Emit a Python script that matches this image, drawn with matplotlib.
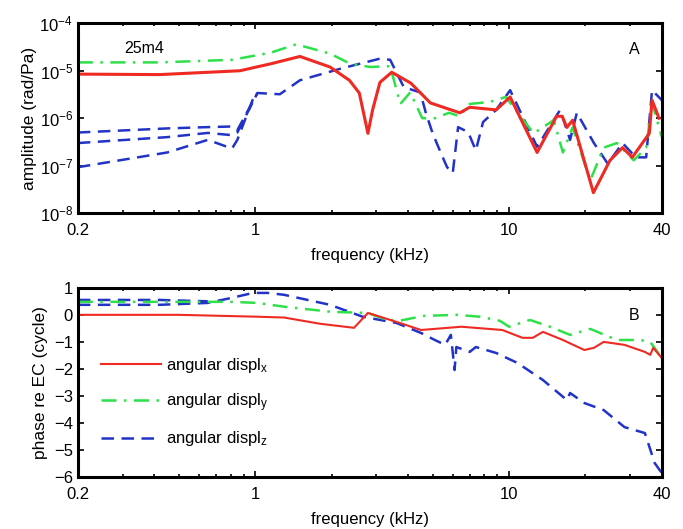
import numpy as np
import matplotlib
matplotlib.use("Agg")
import matplotlib.pyplot as plt
from matplotlib.ticker import FixedLocator, NullFormatter, NullLocator

plt.rcParams['font.family'] = ['Liberation Sans', 'DejaVu Sans']
plt.rcParams['mathtext.fontset'] = 'custom'
plt.rcParams['mathtext.rm'] = 'Liberation Sans'
plt.rcParams['mathtext.it'] = 'Liberation Sans'

# ---- panel A: amplitude (rad/Pa) vs frequency (kHz)
fx_amp = [0.2, 0.42, 0.87, 1.15, 1.5, 1.97, 2.35, 2.57, 2.78, 2.9, 3.1, 3.45, 4.1, 4.9,
          6.4, 7.0, 8.9, 10.1, 12.9, 15.4, 16.2, 16.9, 17.8, 21.5, 25.0, 28.0, 30.6,
          35.7, 36.6, 39.0]
ax_amp = [8.5e-6, 8.3e-6, 1.0e-5, 1.4e-5, 2.0e-5, 1.2e-5, 6.3e-6, 3.4e-6, 4.8e-7, 1.5e-6,
          5.7e-6, 9.3e-6, 5.5e-6, 2.1e-6, 1.3e-6, 1.7e-6, 1.5e-6, 2.8e-6, 1.9e-7, 1.1e-6,
          1.1e-6, 6.4e-7, 9.1e-7, 2.7e-8, 1.3e-7, 2.4e-7, 1.5e-7, 4.8e-7, 2.4e-6, 1.0e-6]

fy_amp = [0.2, 0.42, 0.81, 1.15, 1.45, 1.97, 2.37, 2.84, 3.4, 3.73, 4.08, 4.55, 5.1, 5.8,
          6.4, 7.0, 8.4, 9.7, 12.5, 15.0, 16.3, 17.8, 20.9, 23.6, 26.6, 31.0, 34.7, 36.6, 40.0]
ay_amp = [1.5e-5, 1.5e-5, 1.7e-5, 2.4e-5, 3.6e-5, 2.3e-5, 1.4e-5, 1.2e-5, 1.25e-5, 2.0e-6,
          3.5e-6, 1.0e-6, 1.0e-6, 1.3e-6, 1.1e-6, 2.0e-6, 2.2e-6, 2.8e-6, 4.8e-7, 9.1e-7,
          1.9e-7, 6.4e-7, 4.9e-8, 2.4e-7, 3.0e-7, 1.3e-7, 2.4e-7, 2.1e-6, 4.0e-7]

fz_amp = [0.2, 0.45, 0.65, 0.81, 0.85, 1.02, 1.25, 1.5, 2.16, 3.1, 3.4, 3.85, 4.47, 4.7, 5.0,
          5.4, 5.7, 6.0, 6.3, 6.9, 7.4, 7.9, 8.9, 10.1, 12.9, 15.9, 17.4, 18.5, 21.6, 24.5,
          28.0, 31.6, 34.7, 36.6, 40.0]
az_amp = [5.0e-7, 6.1e-7, 6.5e-7, 6.7e-7, 5.6e-7, 3.4e-6, 3.2e-6, 6.3e-6, 1.1e-5, 1.8e-5,
          1.7e-5, 4.5e-6, 3.5e-6, 1.3e-6, 4.8e-7, 1.8e-7, 9.3e-8, 7.0e-8, 6.5e-7, 5.1e-7,
          2.1e-7, 8.3e-7, 1.5e-6, 3.9e-6, 2.5e-7, 1.5e-6, 3.5e-7, 1.3e-6, 3.0e-7, 1.1e-7,
          3.0e-7, 1.5e-7, 1.5e-7, 3.9e-6, 2.4e-6]
# extra low-frequency z branches
fz2_amp = [0.2, 0.45, 0.65, 0.81, 0.85, 1.02]
az2_amp = [3.0e-7, 4.0e-7, 4.9e-7, 4.4e-7, 5.0e-7, 3.4e-6]
fz3_amp = [0.2, 0.45, 0.65, 0.81, 0.85, 1.0]
az3_amp = [9.3e-8, 1.9e-7, 3.5e-7, 2.3e-7, 3.5e-7, 3.4e-6]

# ---- panel B: phase re EC (cycle)
fx_ph = [0.2, 0.5, 1.02, 1.3, 1.8, 2.45, 2.78, 3.6, 4.5, 6.5, 9.4, 11.3, 12.4, 13.6, 16.3,
         19.8, 21.6, 23.6, 28.5, 34.3, 36.0, 37.0, 40.0]
px_ph = [0.0, 0.0, -0.07, -0.1, -0.33, -0.48, 0.07, -0.26, -0.56, -0.44, -0.56, -0.85,
         -0.85, -0.63, -0.93, -1.30, -1.22, -1.0, -1.11, -1.37, -1.48, -1.22, -1.6]

fy_ph = [0.2, 0.81, 1.02, 1.3, 2.0, 2.78, 3.3, 3.7, 4.6, 6.2, 7.7, 9.2, 10.0, 12.1, 14.5,
         17.4, 20.9, 26.6, 32.9, 36.0, 40.0]
py_ph = [0.48, 0.48, 0.44, 0.3, 0.11, 0.07, -0.19, -0.22, -0.04, 0.0, -0.07, -0.22, -0.44,
         -0.19, -0.44, -0.74, -0.52, -0.93, -0.93, -1.0, -1.6]

fz_ph = [0.2, 0.42, 0.65, 0.81, 0.98, 1.12, 1.3, 1.97, 2.65, 3.6, 4.5, 5.1, 5.6, 5.9, 6.1,
         6.2, 7.0, 7.4, 8.9, 10.8, 13.6, 16.9, 17.4, 19.8, 23.6, 28.5, 34.3, 37.5, 40.0]
pz_ph = [0.37, 0.37, 0.44, 0.63, 0.81, 0.81, 0.74, 0.37, -0.07, -0.3, -0.67, -0.93, -1.11,
         -0.74, -2.04, -1.19, -1.37, -1.19, -1.41, -1.78, -2.41, -3.15, -2.89, -3.26,
         -3.52, -4.15, -4.37, -5.48, -5.85]
fz2_ph = [0.2, 0.42, 0.65]
pz2_ph = [0.55, 0.55, 0.5]

red = '#ee2a22'
green = '#2ee04a'
blue = '#2233c8'

fig = plt.figure(figsize=(6.83, 5.29), dpi=100)
ax1 = fig.add_axes([0.114, 0.597, 0.855, 0.359])
ax2 = fig.add_axes([0.114, 0.098, 0.855, 0.358])

ax1.plot(fz_amp, az_amp, '--', color=blue, lw=1.8, dashes=(5, 3))
ax1.plot(fz2_amp, az2_amp, '--', color=blue, lw=1.8, dashes=(5, 3))
ax1.plot(fz3_amp, az3_amp, '--', color=blue, lw=1.8, dashes=(5, 3))
ax1.plot(fy_amp, ay_amp, '-.', color=green, lw=1.8, dashes=(6, 3, 1, 3))
ax1.plot(fx_amp, ax_amp, '-', color=red, lw=2.2)
ax1.set_yscale('log')
ax1.set_ylim(1e-8, 1e-4)
ax1.set_yticks([1e-8, 1e-7, 1e-6, 1e-5, 1e-4])
ax1.yaxis.set_minor_locator(NullLocator())
ax1.set_ylabel('amplitude (rad/Pa)', fontsize=12.5, labelpad=2)
ax1.text(0.08, 0.845, '25m4', transform=ax1.transAxes, fontsize=11.5)
ax1.text(0.962, 0.84, 'A', transform=ax1.transAxes, fontsize=11.5, ha='right')

ax2.plot(fz_ph, pz_ph, '--', color=blue, lw=1.8, dashes=(5, 3), label='angular displ$_z$')
ax2.plot(fz2_ph, pz2_ph, '--', color=blue, lw=1.8, dashes=(5, 3))
ax2.plot(fy_ph, py_ph, '-.', color=green, lw=1.8, dashes=(6, 3, 1, 3), label='angular displ$_y$')
ax2.plot(fx_ph, px_ph, '-', color=red, lw=1.5, label='angular displ$_x$')
ax2.set_ylim(-6, 1)
ax2.set_yticks(range(-6, 2))
ax2.set_ylabel('phase re EC (cycle)', fontsize=12.5, labelpad=4)
ax2.text(0.962, 0.83, 'B', transform=ax2.transAxes, fontsize=11.5, ha='right')
h, l = ax2.get_legend_handles_labels()
ax2.legend(h[::-1], l[::-1], loc='lower left', bbox_to_anchor=(0.02, 0.09), frameon=False,
           fontsize=12, handlelength=3.6, handletextpad=0.3, labelspacing=0.95,
           borderaxespad=0.3)

for ax in (ax1, ax2):
    ax.set_xscale('log')
    ax.set_xlim(0.2, 40)
    ax.xaxis.set_major_locator(FixedLocator([0.2, 1, 10, 40]))
    ax.set_xticklabels(['0.2', '1', '10', '40'])
    minors = [0.3, 0.4, 0.5, 0.6, 0.7, 0.8, 0.9, 2, 3, 4, 5, 6, 7, 8, 9, 20, 30]
    ax.xaxis.set_minor_locator(FixedLocator(minors))
    ax.xaxis.set_minor_formatter(NullFormatter())
    ax.set_xlabel('frequency (kHz)', fontsize=12, labelpad=7)
    ax.tick_params(which='both', direction='in', top=True, right=True, labelsize=12,
                   width=1.2)
    ax.tick_params(axis='x', which='major', pad=7)
    ax.tick_params(which='major', length=4)
    ax.tick_params(which='minor', length=2.5)
    for s in ax.spines.values():
        s.set_linewidth(2.2)

fig.savefig('out.png', dpi=100)
